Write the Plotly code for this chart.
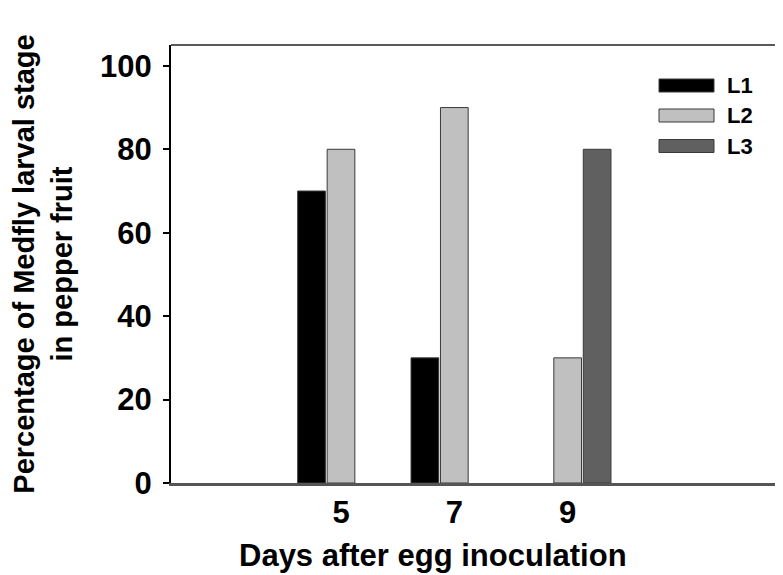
import plotly.graph_objects as go

days = [5, 7, 9]
day_labels = ["5", "7", "9"]
stages = ["L1", "L2", "L3"]
l1 = [70, 30, 0]
l2 = [80, 90, 30]
l3 = [0, 0, 80]
series = [l1, l2, l3]
colors = ["#000000", "#c0c0c0", "#606060"]
y_ticks = [0, 20, 40, 60, 80, 100]

# page body has an 8px margin; the figure is sized so the plot area lands where the reference has it
OFF = 8
W, H = 783 - OFF, 575 - OFF
L, R, T, B = 171 - OFF, 0, 45 - OFF, 92
pw, ph = W - L - R, H - T - B

def px(x):
    return (x - OFF - L) / pw

def py(y):
    return (H - B - (y - OFF)) / ph

FONT = "Liberation Sans, Arial, sans-serif"

fig = go.Figure()
for name, vals, c in zip(stages, series, colors):
    fig.add_trace(go.Bar(
        x=days, y=vals, name=name, marker_color=c,
        marker_line_color="#3a3a3a",
        marker_line_width=[1 if v > 0 else 0 for v in vals],
        showlegend=False,
    ))

# manual legend (wide swatches)
leg_y = [85.5, 115.5, 146]
for name, c, yc in zip(stages, colors, leg_y):
    fig.add_shape(type="rect", xref="paper", yref="paper",
                  x0=px(659), x1=px(714), y0=py(yc - 6.5), y1=py(yc + 6.5),
                  fillcolor=c, line=dict(color="#3a3a3a", width=1))
    fig.add_annotation(xref="paper", yref="paper", x=px(725), y=py(yc),
                       xanchor="left", yanchor="middle", text=name, showarrow=False,
                       font=dict(family=FONT, size=22, color="black", weight="bold"))

# top frame line
fig.add_shape(type="line", xref="paper", yref="paper", x0=0, x1=1, y0=1, y1=1,
              line=dict(color="#222222", width=1.5))

# x-axis title
fig.add_annotation(xref="paper", yref="paper", x=px(433), y=py(555),
                   xanchor="center", yanchor="middle", showarrow=False,
                   text="Days after egg inoculation",
                   font=dict(family=FONT, size=31, color="black", weight="bold"))

fig.update_layout(
    width=W, height=H,
    margin=dict(l=L, r=R, t=T, b=B),
    paper_bgcolor="white", plot_bgcolor="white",
    barmode="group", bargap=0.22, bargroupgap=0.06,
    font=dict(family=FONT, color="black"),
)
fig.update_xaxes(
    range=[2.0, 12.8], tickmode="array", tickvals=days, ticktext=day_labels,
    showgrid=False, zeroline=False, showline=True, linecolor="#555555", linewidth=2.5,
    ticks="", tickfont=dict(family=FONT, size=31, color="black", weight="bold"),
    ticklabelstandoff=0,
)
fig.update_yaxes(
    range=[0, 105], tickmode="array", tickvals=y_ticks,
    showgrid=False, zeroline=False, showline=True, linecolor="black", linewidth=2,
    ticks="outside", ticklen=6, tickwidth=1.5, tickcolor="black",
    tickfont=dict(family=FONT, size=31, color="black", weight="bold"),
    ticklabelstandoff=5,
    title=dict(text="Percentage of Medfly larval stage<br>in pepper fruit", standoff=20,
               font=dict(family=FONT, size=29, color="black", weight="bold")),
)

fig.write_html("out.html")
